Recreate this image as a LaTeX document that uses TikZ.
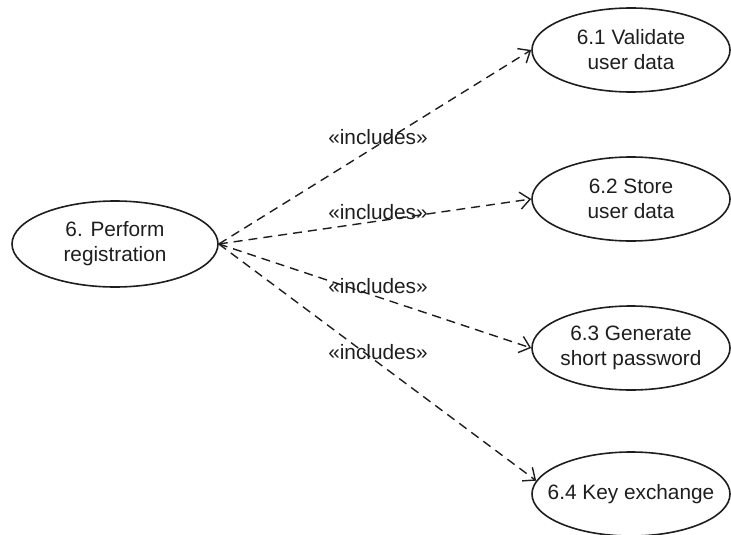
\documentclass[tikz,border=0pt]{standalone}
\usepackage{fontspec}
\setmainfont{Liberation Sans}
\usetikzlibrary{shapes.geometric,arrows.meta}
\definecolor{ink}{HTML}{1E1E1E}
\tikzset{
  usecase/.style={ellipse, draw=ink, line width=1.6pt, inner sep=0pt,
    align=center, text=ink, font=\fontsize{20.8}{25}\selectfont},
  sub/.style={usecase, inner xsep=-14pt, minimum width=198pt, minimum height=84pt},
  incl/.style={draw=ink, line width=1.4pt, dash pattern=on 9pt off 6pt,
    -{Straight Barb[length=10pt,width=17pt,line width=1.4pt]}},
  stereo/.style={text=ink, font=\fontsize{20.8}{25}\selectfont, inner sep=0pt}
}
\begin{document}
\begin{tikzpicture}[x=1pt,y=-1pt]
  \useasboundingbox (0,0) rectangle (731,535);
  % actor-side use case
  \node[usecase, minimum width=206pt, minimum height=86pt] (main) at (115,244)
    {6. Perform\\registration};
  % included use cases
  \node[sub] (u1) at (631,50)  {6.1 Validate\\user data};
  \node[sub] (u2) at (631,199) {6.2 Store\\user data};
  \node[sub] (u3) at (631,348) {6.3 Generate\\short password};
  \node[sub] (u4) at (631,494) {6.4 Key exchange};
  % include relations
  \draw[incl] (main.east) -- (u1.west);
  \draw[incl] (main.east) -- (u2.west);
  \draw[incl] (main.east) -- (u3.west);
  \draw[incl] (main.east) -- (u4.172);
  % stereotype labels
  \node[stereo] (l1) at (378,137) {«includes»};
  \node[stereo] (l2) at (378,212) {«includes»};
  \node[stereo] (l3) at (378,286) {«includes»};
  \node[stereo] (l4) at (378,352) {«includes»};
\end{tikzpicture}
\end{document}
